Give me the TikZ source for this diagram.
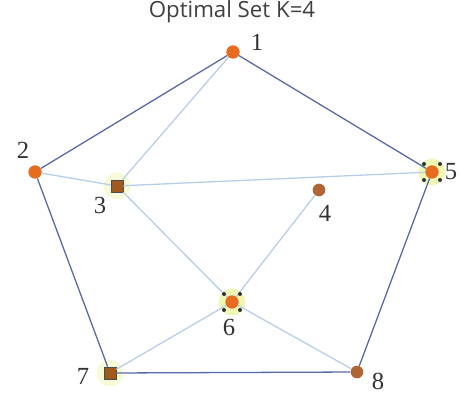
\documentclass[tikz,border=0pt]{standalone}
\usepackage{fontspec}
\setmainfont{Liberation Serif}
\newfontfamily\titlefont{Open Sans}
\usetikzlibrary{positioning}
\definecolor{darkedge}{RGB}{88,106,166}
\definecolor{lightedge}{RGB}{182,206,232}
\definecolor{dotorange}{RGB}{232,108,32}
\definecolor{dotbrown}{RGB}{176,102,52}
\definecolor{sqbrown}{RGB}{160,90,30}
\definecolor{glow}{RGB}{226,240,120}

\begin{document}
\begin{tikzpicture}[x=0.03cm, y=-0.03cm,
		odot/.style={circle, fill=dotorange, inner sep=0pt, minimum size=0.4cm},
		bdot/.style={circle, fill=dotbrown, inner sep=0pt, minimum size=0.38cm},
		sq/.style={rectangle, fill=sqbrown, draw=black!70, line width=0.6pt, inner sep=0pt, minimum size=0.36cm},
		halo/.style={circle, fill=glow, opacity=#1, inner sep=0pt, minimum size=0.8cm},
		halo/.default=0.55,
		lbl/.style={font=\fontsize{21}{21}\selectfont, text=black!80},
		outer/.style={darkedge, line width=1.1pt},
		inner/.style={lightedge, line width=1.1pt}]
		\useasboundingbox (0,0) rectangle (461,399);
		\node[font=\titlefont\fontsize{19}{19}\selectfont, text=black!75] (title) at (232,12) {Optimal Set K=4};
		
		% halos of the chosen set
		\node[halo=0.3] (h3) at (117,186) {};
		\node[halo] (h5) at (432,172) {};
		\node[halo] (h6) at (232,302) {};
		\node[halo=0.3] (h7) at (110,373) {};
		
		\node[odot] (v1) at (233,52) {};
		\node[odot] (v2) at (35,172) {};
		\node[sq] (v3) at (117,186) {};
		\node[bdot] (v4) at (319,190) {};
		\node[odot] (v5) at (432,172) {};
		\node[odot] (v6) at (232,302) {};
		\node[sq] (v7) at (110,373) {};
		\node[bdot] (v8) at (357,372) {};
		
		\draw[inner] (v1) -- (v3);
		\draw[inner] (v2) -- (v3);
		\draw[inner] (v3) -- (v5);
		\draw[inner] (v3) -- (v6);
		\draw[inner] (v4) -- (v6);
		\draw[inner] (v6) -- (v7);
		\draw[inner] (v6) -- (v8);
		
		\draw[outer] (v1) -- (v2);
		\draw[outer] (v1) -- (v5);
		\draw[outer] (v2) -- (v7);
		\draw[outer] (v7) -- (v8);
		\draw[outer] (v8) -- (v5);
		
		% selection marks
		\foreach \v in {v5, v6} {
			\foreach \dx/\dy in {-8/-8, 8/-8, -8/8, 8/8}
				\fill[black!80] ([shift={(\dx,\dy)}]\v.center) circle (0.06cm);
		}
		
		\node[lbl] (l1) at (257,42) {1};
		\node[lbl] (l2) at (23,150) {2};
		\node[lbl] (l3) at (100,205) {3};
		\node[lbl] (l4) at (325,213) {4};
		\node[lbl] (l5) at (451,172) {5};
		\node[lbl] (l6) at (229,327) {6};
		\node[lbl] (l7) at (83,376) {7};
		\node[lbl] (l8) at (378,381) {8};
		\end{tikzpicture}
\end{document}
